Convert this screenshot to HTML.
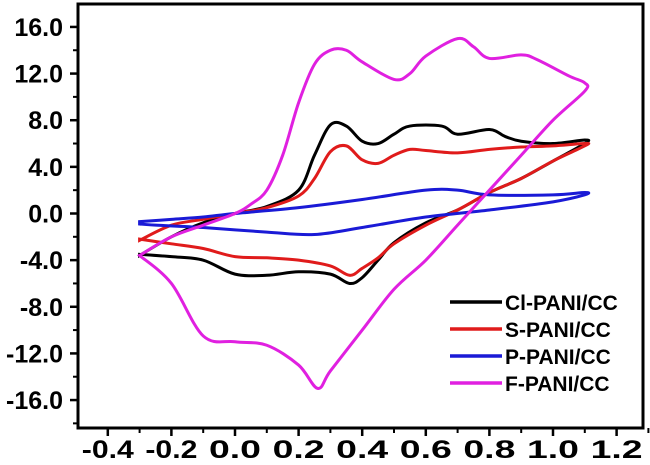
<!DOCTYPE html>
<html><head><meta charset="utf-8"><style>
body{margin:0;background:#fff;}
svg{display:block;font-family:"Liberation Sans",Arial,sans-serif;font-weight:bold;}
</style></head><body>
<svg id="chart" width="650" height="465" viewBox="0 0 650 465">
<rect x="78" y="4" width="565" height="424" fill="none" stroke="#000" stroke-width="3"/>
<g id="axes"></g><g id="series"></g><g id="legend"></g>
</svg>
<script>
const xTicks=[-0.4,-0.2,0.0,0.2,0.4,0.6,0.8,1.0,1.2];
const yTicks=[16,12,8,4,0,-4,-8,-12,-16];
const seriesNames=["Cl-PANI/CC","S-PANI/CC","P-PANI/CC","F-PANI/CC"];
const seriesColors=["#000000","#e01b1b","#1a1ad6","#e020e0"];
const legendLabels=["Cl-PANI/CC","S-PANI/CC","P-PANI/CC","F-PANI/CC"];
const clX=[-0.3,-0.2,-0.1,0,0.1,0.2,0.25,0.3,0.35,0.4,0.45,0.5,0.55,0.65,0.7,0.8,0.85,0.9,1.0,1.1,1.1,1.0,0.9,0.8,0.7,0.6,0.5,0.45,0.4,0.36,0.3,0.2,0.1,0.0,-0.1,-0.2,-0.3];
const clY=[-3.6,-2.0,-0.8,0,0.6,2,5,7.6,7.5,6.2,6.0,6.8,7.5,7.5,6.8,7.2,6.6,6.2,6.0,6.3,6.0,4.5,3.0,1.8,0.3,-0.8,-2.5,-4,-5.5,-6.0,-5.2,-5.0,-5.3,-5.2,-4.0,-3.7,-3.5];
const sX=[-0.3,-0.2,-0.1,0,0.1,0.2,0.25,0.3,0.35,0.4,0.45,0.5,0.55,0.6,0.7,0.8,0.9,1.0,1.1,1.1,1.0,0.9,0.8,0.7,0.6,0.5,0.45,0.4,0.36,0.3,0.2,0.1,0,-0.1,-0.2,-0.3];
const sY=[-2.3,-1.0,-0.5,0,0.5,1.5,3,5.3,5.8,4.6,4.3,5.0,5.5,5.4,5.2,5.5,5.7,5.8,6.0,5.8,4.5,3.0,1.8,0.3,-1.0,-2.6,-3.8,-4.7,-5.3,-4.5,-4.0,-3.8,-3.7,-3.0,-2.6,-2.2];
const pX=[-0.3,-0.2,-0.1,0,0.2,0.4,0.6,0.7,0.8,1.0,1.1,1.1,1.0,0.8,0.6,0.4,0.25,0.1,-0.1,-0.25,-0.3];
const pY=[-0.7,-0.5,-0.3,0,0.5,1.2,2.0,2.0,1.6,1.6,1.8,1.6,1.0,0.3,-0.3,-1.2,-1.8,-1.6,-1.2,-1.0,-0.9];
const fX=[-0.3,-0.2,-0.1,0,0.05,0.1,0.15,0.2,0.25,0.3,0.35,0.4,0.5,0.55,0.6,0.7,0.75,0.8,0.9,0.95,1.05,1.1,1.1,1.0,0.9,0.8,0.7,0.6,0.5,0.4,0.3,0.26,0.2,0.1,0,-0.1,-0.2,-0.3];
const fY=[-3.6,-2.0,-1.0,0,0.8,2,5,9.5,12.8,14,14,13,11.5,12,13.5,15,14.3,13.3,13.6,13.2,11.8,11.2,10.5,8,5,2,-1,-4,-6.5,-10,-13.5,-15,-13,-11.3,-11,-10.5,-6,-3.6];
const seriesX=[clX,sX,pX,fX], seriesY=[clY,sY,pY,fY];
const X=v=>235+v*318, Y=v=>213.5-v*11.66;
const NS="http://www.w3.org/2000/svg";
const axes=document.getElementById('axes');
function mk(tag,attrs,parent){const e=document.createElementNS(NS,tag);for(const k in attrs)e.setAttribute(k,attrs[k]);parent.appendChild(e);return e;}
xTicks.forEach((t,i)=>{
  const px=X(t);
  const tk=mk('line',{x1:px,x2:px,y1:428,y2:436,stroke:'#000','stroke-width':2.5},axes);
  
  
  const mt=mk('line',{x1:px+31.8,x2:px+31.8,y1:428,y2:433,stroke:'#000','stroke-width':2},axes);
  
  
  const tx=mk('text',{x:px,y:458,'text-anchor':'middle','font-size':25,'textLength':52,'lengthAdjust':'spacingAndGlyphs'},axes);
  tx.textContent=t.toFixed(1);
  
  
});
yTicks.forEach(t=>{
  const py=Y(t);
  const tk=mk('line',{x1:70,x2:78,y1:py,y2:py,stroke:'#000','stroke-width':2.5},axes);
  
  
  const mt=mk('line',{x1:73,x2:78,y1:py+23.3,y2:py+23.3,stroke:'#000','stroke-width':2},axes);
  
  
  const tx=mk('text',{x:63,y:py+9,'text-anchor':'end','font-size':25},axes);
  tx.textContent=t.toFixed(1);
  
  
});
function path(xs,ys){
  const p=xs.map((x,i)=>[X(x),Y(ys[i])]);
  let d='M'+p[0][0]+','+p[0][1];
  for(let i=0;i<p.length-1;i++){
    const p0=p[Math.max(0,i-1)],p1=p[i],p2=p[i+1],p3=p[Math.min(p.length-1,i+2)];
    const c1=[p1[0]+(p2[0]-p0[0])/6,p1[1]+(p2[1]-p0[1])/6];
    const c2=[p2[0]-(p3[0]-p1[0])/6,p2[1]-(p3[1]-p1[1])/6];
    d+=' C'+c1+' '+c2+' '+p2;
  }
  return d+' Z';
}
const sg=document.getElementById('series');
seriesNames.forEach((n,i)=>{
  const e=mk('path',{d:path(seriesX[i],seriesY[i]),fill:'none',stroke:seriesColors[i],'stroke-width':3},sg);
  
  
});
const lg=document.getElementById('legend');
legendLabels.forEach((n,i)=>{
  const y=302+i*27;
  const l=mk('line',{x1:450,x2:502,y1:y,y2:y,stroke:seriesColors[i],'stroke-width':3.5},lg);
  
  
  const t=mk('text',{x:505,y:y+8,'font-size':21},lg);
  t.textContent=n;
  
  
});
</script>
</body></html>
